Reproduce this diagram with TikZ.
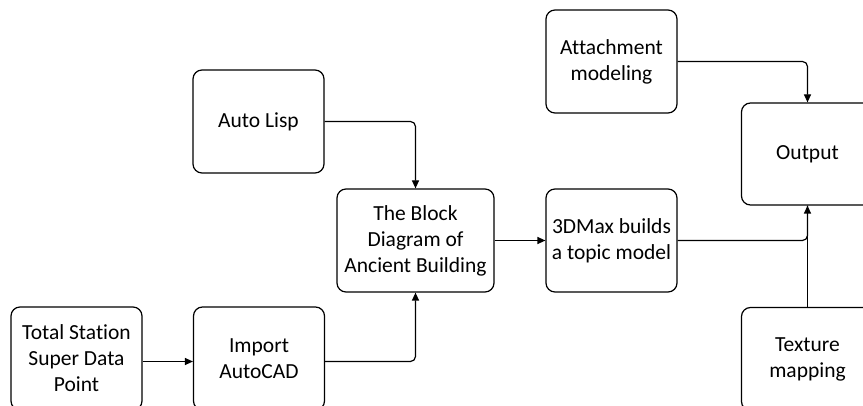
\documentclass[tikz,border=0pt]{standalone}
\usepackage{fontspec}
\setmainfont[Ligatures=NoCommon]{Carlito}
\usetikzlibrary{arrows.meta}
\begin{document}
\begin{tikzpicture}[x=1pt,y=-1pt,
  box/.style={draw,line width=1.2pt,rounded corners=9pt,align=center,inner sep=0pt,
    font=\fontsize{21.5}{26}\selectfont},
  conn/.style={line width=1.2pt,rounded corners=5pt},
  arr/.style={conn,-{Triangle[length=8pt,width=7pt]}}]
\useasboundingbox (0,0) rectangle (863,406);
\node[box,minimum width=131pt,minimum height=103pt] (ts) at (76.5,358.5) {Total Station\\Super Data\\Point};
\node[box,minimum width=131pt,minimum height=103pt] (imp) at (259,358.5) {Import\\AutoCAD};
\node[box,minimum width=131pt,minimum height=103pt] (lisp) at (258.5,121.5) {Auto Lisp};
\node[box,minimum width=157pt,minimum height=103pt] (block) at (415.5,240.5) {The Block\\Diagram of\\Ancient Building};
\node[box,minimum width=131pt,minimum height=103pt] (max) at (611.5,240.5) {3DMax builds\\a topic model};
\node[box,minimum width=131pt,minimum height=103pt] (att) at (611.5,61.5) {Attachment\\modeling};
\node[box,minimum width=132pt,minimum height=102pt] (out) at (807.5,154) {Output};
\node[box,minimum width=132pt,minimum height=103pt] (tex) at (807.5,359) {Texture\\mapping};
\draw[arr] (ts.east |- 0,361.5) -- (imp.west |- 0,361.5);
\draw[arr] (lisp.east) -| (block.north);
\draw[arr] (imp.east |- 0,361.5) -| (block.south);
\draw[arr] (block.east) -- (max.west);
\draw[arr] (att.east) -| (out.north);
\draw[conn] (max.east) -| (out.south);
\draw[arr] (tex.north) -- (out.south);
\end{tikzpicture}
\end{document}
